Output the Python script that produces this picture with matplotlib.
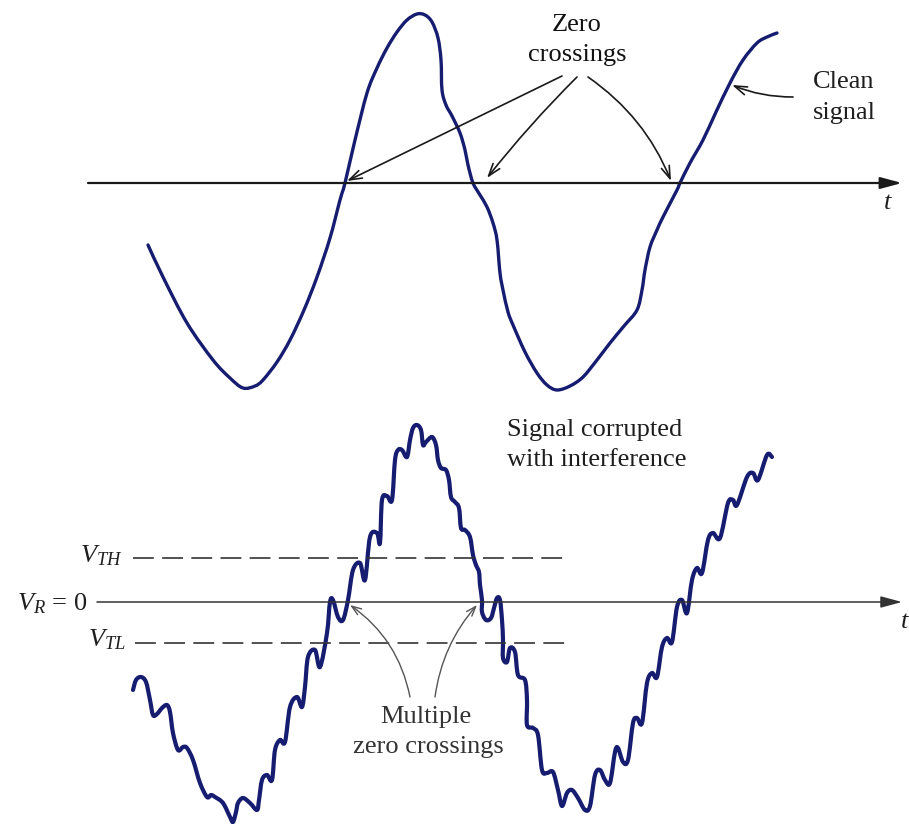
import matplotlib
matplotlib.use("Agg")
import matplotlib.pyplot as plt
from matplotlib.path import Path
from matplotlib.patches import PathPatch
import numpy as np

plt.rcParams['font.family'] = ['Liberation Serif', 'DejaVu Serif']
plt.rcParams['mathtext.fontset'] = 'custom'
plt.rcParams['mathtext.rm'] = 'Liberation Serif'
plt.rcParams['mathtext.it'] = 'Liberation Serif:italic'
plt.rcParams['lines.scale_dashes'] = False

# ---- data (pixel-space sketch coordinates) ----
clean_x = [148, 163, 187, 213, 230, 243, 255, 263, 277, 290, 304, 317, 330, 340, 345, 355, 367, 377,
           387, 397, 407, 417, 425, 432, 438, 441, 442, 446, 452, 460, 465, 468, 473, 480, 487, 493,
           497, 500, 503, 508, 513, 525, 537, 547, 557, 570, 583, 597, 610, 624, 637, 642, 645, 650,
           657, 663, 677, 680, 690, 703, 716, 730, 743, 757, 767, 777]
clean_y = [245, 277, 323, 360, 378, 388, 386, 380, 362, 340, 310, 277, 238, 200, 183, 140, 93, 68,
           48, 32, 20, 14, 15, 22, 38, 60, 90, 105, 116, 133, 150, 165, 183, 195, 207, 223,
           240, 273, 290, 312, 325, 352, 373, 385, 390, 386, 377, 360, 343, 326, 310, 290, 270, 247,
           230, 217, 190, 183, 163, 140, 112, 83, 60, 43, 37, 33]

noisy_x = [133, 136, 141, 146, 150, 153, 157, 162, 167, 170, 173, 178, 183, 187, 193, 200, 207, 211,
           215, 223, 230, 233, 236, 238, 243, 250, 257, 259, 262, 267, 272, 275, 280, 285, 290, 297,
           302, 305, 308, 315, 320, 327, 330, 333, 338, 343, 348, 353, 360, 365, 370, 377, 380, 382,
           387, 392, 395, 398, 402, 407, 410, 413, 417, 421, 423, 426, 432, 436, 438, 441, 446, 449,
           451, 455, 459, 461, 465, 470, 473, 476, 479, 480, 482, 482, 486, 491, 494, 497, 500, 502,
           503, 503, 507, 510, 515, 518, 525, 527, 527, 533, 538, 542, 547, 553, 558, 562, 567, 572,
           578, 585, 590, 595, 600, 605, 610, 615, 618, 623, 628, 633, 637, 642, 647, 652, 657, 662,
           667, 672, 677, 682, 687, 692, 697, 702, 708, 713, 720, 728, 733, 737, 747, 753, 758, 767, 772]
noisy_y = [690, 680, 677, 682, 700, 715, 714, 708, 705, 712, 733, 750, 747, 748, 760, 783, 797, 795,
           797, 803, 817, 822, 812, 803, 798, 803, 810, 800, 780, 775, 780, 750, 740, 742, 707, 697,
           707, 687, 657, 650, 667, 633, 602, 600, 617, 620, 600, 570, 563, 580, 537, 533, 543, 500,
           496, 500, 460, 450, 450, 457, 440, 428, 425, 430, 445, 442, 437, 445, 460, 468, 470, 480,
           497, 502, 508, 528, 530, 537, 555, 565, 572, 585, 600, 612, 620, 618, 608, 598, 600, 620,
           640, 658, 662, 648, 652, 675, 680, 700, 725, 728, 735, 770, 773, 772, 790, 806, 793, 790,
           798, 810, 806, 775, 770, 780, 783, 752, 748, 762, 760, 723, 718, 723, 683, 673, 677, 647,
           638, 642, 607, 600, 613, 580, 568, 573, 540, 533, 538, 503, 500, 505, 477, 473, 480, 455, 457]

y_top_axis = 183
y_bottom_axis = 602
y_vth = 558
y_vtl = 643


def smooth_path(xs, ys):
    """Catmull-Rom curve through the given points, drawn as cubic Bezier segments."""
    p = np.column_stack([xs, ys]).astype(float)
    ext = np.vstack([p[0], p, p[-1]])
    verts = [p[0]]
    codes = [Path.MOVETO]
    for i in range(1, len(ext) - 2):
        p0, p1, p2, p3 = ext[i - 1], ext[i], ext[i + 1], ext[i + 2]
        c1 = p1 + (p2 - p0) / 6.0
        c2 = p2 - (p3 - p1) / 6.0
        verts += [c1, c2, p2]
        codes += [Path.CURVE4] * 3
    return Path(verts, codes)


W, H = 909, 824
fig = plt.figure(figsize=(W / 100, H / 100), dpi=100)
ax = fig.add_axes([0, 0, 1, 1])
ax.set_xlim(0, W)
ax.set_ylim(H, 0)
ax.axis('off')

curve_col = '#161c70'
txt_col = '#1e1e1e'
fs = 19

# top axis
ax.annotate('', xy=(902, y_top_axis), xytext=(88, y_top_axis),
            arrowprops=dict(arrowstyle='-|>,head_length=1.3,head_width=0.35', color='#1a1a1a',
                            lw=1.6, shrinkA=0, shrinkB=0))
ax.text(888, 203, '$t$', fontsize=fs, ha='center', va='center', color=txt_col)

# clean signal
ax.add_patch(PathPatch(smooth_path(clean_x, clean_y), fill=False, edgecolor=curve_col, lw=2.4,
                       capstyle='round', joinstyle='round'))

# bottom axis
ax.annotate('', xy=(902, y_bottom_axis), xytext=(97, y_bottom_axis),
            arrowprops=dict(arrowstyle='-|>,head_length=1.3,head_width=0.35', color='#333333',
                            lw=1.1, shrinkA=0, shrinkB=0))
ax.text(905, 622, '$t$', fontsize=fs, ha='center', va='center', color=txt_col)

# threshold lines
ax.plot([133, 570], [y_vth, y_vth], color='#333333', lw=1.2, dashes=(15, 6))
ax.plot([135, 572], [y_vtl, y_vtl], color='#333333', lw=1.2, dashes=(15, 6))
ax.text(123, 562, r'$V_{TH}$', fontsize=fs, ha='right', va='baseline', color=txt_col)
ax.text(88, 610, r'$V_R\,=\,\mathrm{0}$', fontsize=fs, ha='right', va='baseline', color=txt_col)
ax.text(126, 646, r'$V_{TL}$', fontsize=fs, ha='right', va='baseline', color=txt_col)

# noisy signal
ax.add_patch(PathPatch(smooth_path(noisy_x, noisy_y), fill=False, edgecolor=curve_col, lw=3.0,
                       capstyle='round', joinstyle='round'))

# top annotations
ax.text(577, 25, 'Zero', fontsize=fs, ha='center', va='center', color='#111111')
ax.text(577, 55, 'crossings', fontsize=fs, ha='center', va='center', color='#111111')
arr = dict(arrowstyle='->,head_length=0.9,head_width=0.3', color='#1a1a1a', lw=1.2,
           shrinkA=0, shrinkB=0)
ax.annotate('', xy=(347, 181), xytext=(562, 76), arrowprops=dict(arr, connectionstyle='arc3,rad=0'))
ax.annotate('', xy=(487, 178), xytext=(577, 77), arrowprops=dict(arr, connectionstyle='arc3,rad=0.03'))
ax.annotate('', xy=(671, 181), xytext=(588, 77), arrowprops=dict(arr, connectionstyle='arc3,rad=-0.15'))

ax.text(813, 82, 'Clean', fontsize=fs, ha='left', va='center', color=txt_col)
ax.text(813, 113, 'signal', fontsize=fs, ha='left', va='center', color=txt_col)
ax.annotate('', xy=(732, 85), xytext=(793, 97), arrowprops=dict(arr, connectionstyle='arc3,rad=-0.1'))

# bottom annotations
ax.text(507, 430, 'Signal corrupted', fontsize=fs, ha='left', va='center', color=txt_col)
ax.text(507, 460, 'with interference', fontsize=fs, ha='left', va='center', color=txt_col)
ax.text(426, 717, 'Multiple', fontsize=fs, ha='center', va='center', color='#333333')
ax.text(428, 747, 'zero crossings', fontsize=fs, ha='center', va='center', color='#333333')
arr2 = dict(arrowstyle='->,head_length=0.7,head_width=0.25', color='#555555', lw=1.0,
            shrinkA=0, shrinkB=0)
ax.annotate('', xy=(350, 605), xytext=(410, 697), arrowprops=dict(arr2, connectionstyle='arc3,rad=0.2'))
ax.annotate('', xy=(477, 605), xytext=(435, 697), arrowprops=dict(arr2, connectionstyle='arc3,rad=-0.15'))

fig.savefig('out.png', dpi=100, facecolor='white')
